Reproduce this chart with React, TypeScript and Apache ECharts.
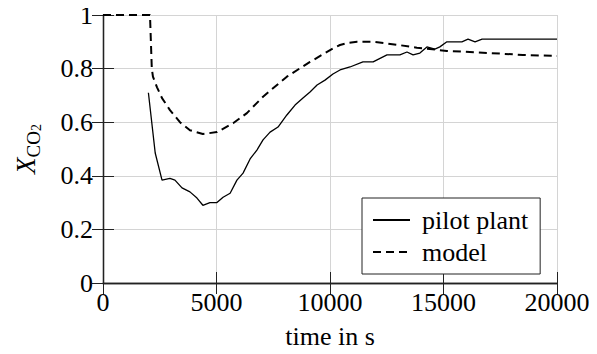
import React, { useEffect, useRef } from "react";
import * as echarts from "echarts";

const pilotTime = [2000, 2300, 2600, 2950, 3170, 3480, 3830, 4140, 4400, 4710, 5020, 5290, 5600, 5900, 6170, 6480, 6780, 7050, 7360, 7710, 8100, 8460, 8810, 9120, 9430, 9780, 10130, 10440, 10880, 11450, 11900, 12510, 13080, 13390, 13660, 13960, 14270, 14620, 14840, 15150, 15810, 16080, 16390, 16700, 20000];
const pilotValue = [0.71, 0.485, 0.384, 0.39, 0.384, 0.355, 0.34, 0.317, 0.29, 0.3, 0.3, 0.32, 0.335, 0.384, 0.41, 0.463, 0.496, 0.534, 0.563, 0.582, 0.627, 0.664, 0.69, 0.713, 0.739, 0.757, 0.78, 0.795, 0.806, 0.825, 0.825, 0.851, 0.851, 0.862, 0.851, 0.858, 0.881, 0.873, 0.881, 0.9, 0.9, 0.91, 0.9, 0.91, 0.91];

const modelTime = [0, 2070, 2110, 2150, 2200, 2380, 2600, 2950, 3390, 3830, 4400, 5020, 5730, 6340, 7050, 8100, 9120, 10130, 10440, 10800, 11190, 11900, 12950, 13830, 14400, 15150, 17050, 18500, 20000];
const modelValue = [1, 1, 0.9, 0.8, 0.77, 0.73, 0.69, 0.645, 0.6, 0.57, 0.556, 0.563, 0.596, 0.634, 0.695, 0.77, 0.825, 0.875, 0.888, 0.896, 0.9, 0.9, 0.889, 0.878, 0.873, 0.866, 0.858, 0.851, 0.847];

const seriesNames = ["pilot plant", "model"];
const xTicks = { min: 0, max: 20000, interval: 5000 };
const yTicks = { min: 0, max: 1, interval: 0.2 };

const FONT = "serif";
const FRAME = "#222";
const GRID = "#d4d4d4";

export default function App() {
  const ref = useRef<HTMLDivElement>(null);
  useEffect(() => {
    if (!ref.current) return;
    const chart = echarts.init(ref.current, null, { renderer: "svg" });
    const tickStyle = { show: true, inside: true, length: 11, lineStyle: { color: FRAME, width: 1 } };
    const lineStyle = { show: true, lineStyle: { color: FRAME, width: 1.3 } };
    const t = { fontFamily: FONT, fontSize: 26, fontWeight: "normal", fontStyle: "normal", color: "#000" };
    chart.setOption({
      animation: false,
      backgroundColor: "#fff",
      grid: { left: 103, right: 40, top: 15, bottom: 71 },
      legend: {
        orient: "vertical",
        left: 362,
        top: 198,
        padding: [8, 12, 8, 10],
        itemGap: 4,
        itemWidth: 37,
        itemHeight: 14,
        backgroundColor: "#fff",
        borderColor: FRAME,
        borderWidth: 1,
        borderRadius: 0,
        itemStyle: { opacity: 0, borderWidth: 0 },
        textStyle: { ...t, lineHeight: 28, padding: [0, 0, 0, 7] },
        data: seriesNames,
      },
      xAxis: [
        {
          type: "value",
          ...xTicks,
          position: "bottom",
          name: "time in s",
          nameLocation: "middle",
          nameGap: 40,
          nameTextStyle: t,
          axisLine: lineStyle,
          axisTick: tickStyle,
          axisLabel: { ...t, margin: 6, formatter: (v: number) => String(v) },
          splitLine: { show: true, lineStyle: { color: GRID, width: 1 } },
        },
        {
          type: "value",
          ...xTicks,
          position: "top",
          axisLine: lineStyle,
          axisTick: tickStyle,
          axisLabel: { show: false },
          splitLine: { show: false },
        },
      ],
      yAxis: [
        {
          type: "value",
          ...yTicks,
          position: "left",
          name: "{x|X}{s|CO}{ss|2}",
          nameLocation: "middle",
          nameRotate: 90,
          nameGap: 60,
          nameTextStyle: {
            fontFamily: FONT,
            color: "#000",
            rich: {
              x: { fontFamily: FONT, fontStyle: "italic", fontWeight: "normal", fontSize: 27, lineHeight: 34, color: "#000" },
              s: { fontFamily: FONT, fontStyle: "normal", fontWeight: "normal", fontSize: 19, lineHeight: 22, verticalAlign: "bottom", color: "#000" },
              ss: { fontFamily: FONT, fontStyle: "normal", fontWeight: "normal", fontSize: 14, lineHeight: 13, verticalAlign: "bottom", color: "#000" },
            },
          },
          axisLine: lineStyle,
          axisTick: tickStyle,
          axisLabel: {
            ...t,
            margin: 10,
            formatter: (v: number) => String(Math.round(v * 10) / 10),
          },
          splitLine: { show: true, lineStyle: { color: GRID, width: 1 } },
        },
        {
          type: "value",
          ...yTicks,
          position: "right",
          axisLine: lineStyle,
          axisTick: tickStyle,
          axisLabel: { show: false },
          splitLine: { show: false },
        },
      ],
      series: [
        {
          name: seriesNames[0],
          type: "line",
          symbol: "none",
          data: pilotTime.map((tt, i) => [tt, pilotValue[i]]),
          lineStyle: { color: "#000", width: 1.3, type: "solid" },
          itemStyle: { color: "#000" },
          z: 3,
        },
        {
          name: seriesNames[1],
          type: "line",
          symbol: "none",
          data: modelTime.map((tt, i) => [tt, modelValue[i]]),
          lineStyle: { color: "#000", width: 2, type: [8, 5] },
          itemStyle: { color: "#000" },
          z: 3,
        },
      ],
    });
    return () => chart.dispose();
  }, []);
  return <div ref={ref} style={{ width: 597, height: 354, margin: -8 }} />;
}
